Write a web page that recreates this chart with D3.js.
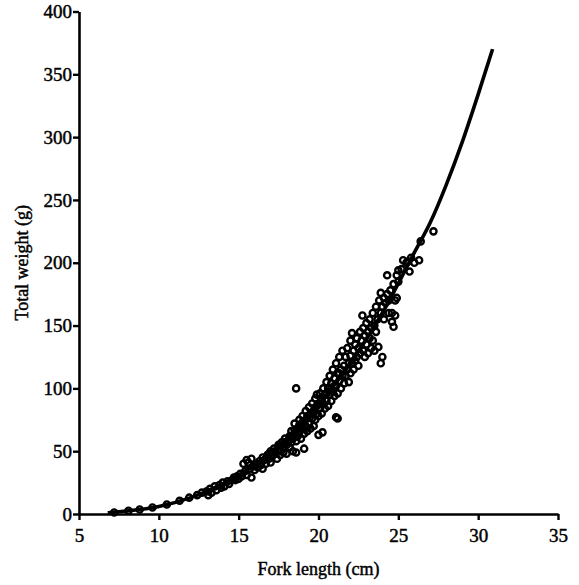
<!DOCTYPE html>
<html>
<head>
<meta charset="utf-8">
<script src="https://cdn.jsdelivr.net/npm/d3@7"></script>
<style>
  body { margin: 0; background: #fff; }
  text { font-family: "Liberation Serif", "Times New Roman", serif; fill: #000; stroke: #000; stroke-width: 0.45px; }
</style>
</head>
<body>
<script>
var forkLength = [
  7.2, 8.1, 8.8, 9.6, 10.5, 11.3, 11.9,
  12.4, 12.7, 13.0, 13.1, 13.2, 13.3, 13.5, 13.6, 13.8, 13.9, 14.0, 14.1, 14.3, 14.4, 14.6,
  14.7, 14.8, 14.9, 15.0, 15.1, 15.2, 15.3, 15.4, 15.5, 15.5, 15.6, 15.7, 15.8, 15.8, 15.9, 16.0, 16.1, 16.2, 16.3, 16.4, 16.5, 16.5,
  16.6, 16.7, 16.8, 16.9, 17.0, 17.0, 17.1, 17.2, 17.3, 17.4, 17.5, 17.5, 17.6, 17.7, 17.8, 17.8, 17.9, 18.0, 18.0, 18.1,
  16.9, 17.3, 17.6, 17.9,
  18.2, 18.2, 18.3, 18.3, 18.4, 18.4, 18.5, 18.5, 18.6, 18.6, 18.6, 18.7, 18.7, 18.8, 18.8, 18.9, 18.9, 19.0, 19.0, 19.1,
  18.5, 18.8, 19.0,
  19.1, 19.1, 19.2, 19.2, 19.3, 19.3, 19.4, 19.4, 19.5, 19.5, 19.6, 19.6, 19.7, 19.7, 19.8, 19.8, 19.8, 19.9, 19.9, 20.0, 20.0, 20.0, 20.1, 20.1, 20.2, 20.25, 20.2, 20.3, 20.3,
  19.3, 19.6, 19.9, 20.2,
  20.4, 20.4, 20.5, 20.5, 20.6, 20.6, 20.7, 20.7, 20.8, 20.8, 20.9, 20.9, 21.0, 21.0, 21.1, 21.1, 21.1, 21.2, 21.2, 21.2, 21.3, 21.3, 21.4, 21.4, 21.5, 21.5,
  20.5, 20.8, 21.0, 21.3,
  21.6, 21.6, 21.7, 21.7, 21.8, 21.8, 21.9, 21.9, 22.0, 22.0, 22.0, 22.1, 22.1, 22.2, 22.2, 22.3, 22.3, 22.4, 22.4, 22.5, 22.5,
  22.6, 22.6, 22.7, 22.75, 22.8, 22.8, 22.9, 22.9, 23.0, 23.0, 23.1, 23.1, 23.2, 23.2, 23.3, 23.3, 23.4, 23.4, 23.5, 23.5,
  23.6, 23.6, 23.7, 23.75, 23.8, 23.9, 23.9, 23.9, 24.0, 24.0, 24.1, 24.1, 24.2, 24.3, 24.3, 24.4, 24.4, 24.5,
  24.6, 24.6, 24.7, 24.7, 24.8, 24.8, 24.9, 24.9, 25.0, 25.0,
  25.2, 25.3, 25.5, 25.6, 25.7, 25.8, 26.0, 26.3, 26.4, 27.2
];
var totalWeight = [
  1.2, 2.6, 3.6, 5.2, 7.6, 10.5, 13,
  15, 17, 18, 15, 20, 17, 22, 19, 23, 21, 25, 22, 26, 24, 27,
  29, 27, 30, 28, 32, 30, 40, 34, 43, 31, 41, 36, 29, 44, 38, 35, 40, 37, 42, 39, 45, 36,
  43, 40, 47, 44, 50, 41, 46, 52, 48, 44, 55, 50, 47, 57, 53, 49, 60, 55, 48, 58,
  48, 50, 54, 57,
  62, 53, 66, 57, 60, 50, 72, 64, 100, 58, 49, 68, 62, 75, 65, 70, 60, 78, 68, 52,
  67, 71, 73,
  74, 64, 82, 70, 76, 66, 85, 72, 80, 68, 88, 76, 82, 70, 92, 85, 75, 95, 80, 88, 78, 63, 96, 84, 92, 65, 80, 100, 88,
  78, 80, 86, 90,
  95, 84, 105, 90, 100, 86, 110, 95, 104, 90, 115, 98, 108, 94, 120, 102, 77, 112, 96, 76, 125, 106, 115, 100, 130, 110,
  96, 100, 102, 112,
  118, 104, 125, 110, 132, 115, 120, 105, 138, 126, 112, 144, 120, 130, 115, 135, 122, 140, 125, 132, 118,
  145, 128, 138, 158, 148, 130, 142, 125, 152, 135, 145, 128, 155, 140, 148, 132, 160, 138, 150, 130,
  165, 145, 155, 133, 170, 176, 160, 120, 165, 125, 172, 155, 168, 190, 175, 170, 160, 178,
  160, 153, 149, 183, 170, 158, 172, 190, 185, 194,
  195, 202, 200, 201, 193, 204, 200, 202, 217, 225
];

// fitted length-weight curve
var curveLength = [6.8, 8, 10, 12, 14, 16, 18, 20, 22, 24, 26, 27, 28, 29, 30, 30.9];
var curveWeight = [1, 2.4, 6, 13, 24, 39, 60, 87, 120, 160, 208, 232, 262, 296, 334, 370];

var xTicks = [5, 10, 15, 20, 25, 30, 35];
var yTicks = [0, 50, 100, 150, 200, 250, 300, 350, 400];

var W = 579, H = 585;
var margin = {top: 11.5, right: 21, bottom: 71, left: 79};

var svg = d3.select("body").append("svg")
    .attr("width", W)
    .attr("height", H);

var x = d3.scaleLinear().domain([5, 35]).range([margin.left, W - margin.right]);
var y = d3.scaleLinear().domain([0, 400]).range([H - margin.bottom, margin.top]);

// points
var pts = forkLength.map(function(d, i) { return {L: d, W: totalWeight[i]}; });

svg.append("g").selectAll("circle")
    .data(pts)
  .enter().append("circle")
    .attr("cx", function(d) { return x(d.L); })
    .attr("cy", function(d) { return y(d.W); })
    .attr("r", 3.1)
    .attr("fill", "none")
    .attr("stroke", "#000")
    .attr("stroke-width", 2.4);

// curve
var line = d3.line()
    .x(function(d) { return x(d[0]); })
    .y(function(d) { return y(d[1]); })
    .curve(d3.curveMonotoneX);

svg.append("path")
    .datum(curveLength.map(function(d, i) { return [d, curveWeight[i]]; }))
    .attr("d", line)
    .attr("fill", "none")
    .attr("stroke", "#000")
    .attr("stroke-width", 3.6);

// axes
var xAxis = svg.append("g")
    .attr("transform", "translate(0," + y(0) + ")")
    .call(d3.axisBottom(x).tickValues(xTicks).tickSize(6).tickPadding(9).tickSizeOuter(0));

var yAxis = svg.append("g")
    .attr("transform", "translate(" + x(5) + ",0)")
    .call(d3.axisLeft(y).tickValues(yTicks).tickSize(6).tickPadding(1).tickSizeOuter(0));

[xAxis, yAxis].forEach(function(g) {
    g.select(".domain").attr("stroke", "#000").attr("stroke-width", 2.6);
    g.selectAll(".tick line").attr("stroke", "#000").attr("stroke-width", 2.4);
    g.selectAll(".tick text")
        .style("font-family", "'Liberation Serif', serif")
        .style("font-size", "19px")
        .attr("fill", "#000")
        .attr("stroke", "#000")
        .attr("stroke-width", 0.45);
});

svg.append("text")
    .attr("x", x(20))
    .attr("y", 575)
    .attr("text-anchor", "middle")
    .style("font-size", "18px")
    .text("Fork length (cm)");

svg.append("text")
    .attr("transform", "translate(28," + y(200) + ") rotate(-90)")
    .attr("text-anchor", "middle")
    .style("font-size", "18px")
    .text("Total weight (g)");
</script>
</body>
</html>
